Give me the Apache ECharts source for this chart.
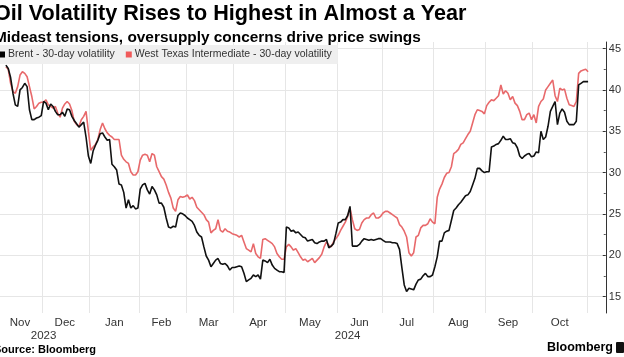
<!DOCTYPE html>
<html><head><meta charset="utf-8">
<script src="https://cdn.jsdelivr.net/npm/echarts@6/dist/echarts.min.js"></script>
<style>html,body{margin:0;padding:0;background:#fff;overflow:hidden}#c{width:624px;height:357px}</style>
</head><body><div id="c"></div>
<script>
const titleText = 'Oil Volatility Rises to Highest in Almost a Year';
const subtitleText = 'Mideast tensions, oversupply concerns drive price swings';
const sourceText = 'Source: Bloomberg';
const brandText = 'Bloomberg';
const seriesNames = ['Brent - 30-day volatility', 'West Texas Intermediate - 30-day volatility'];
const monthNames = ['Jan','Feb','Mar','Apr','May','Jun','Jul','Aug','Sep','Oct','Nov','Dec'];
// trading-day axis
const axisStart = '2023-11-06';
const axisEnd = '2024-11-12';
const holidays = ['2023-11-23','2023-12-25','2024-01-01','2024-01-15','2024-02-19','2024-03-29','2024-05-27','2024-06-19','2024-07-04','2024-09-02'];
// one value per trading day from dataStart
const dataStart = '2023-11-08';
const brent = [
 43.0,42.6,41.5,39.6,38.2,38.0,40.0,40.3,40.8,
 40.4,37.6,36.4,36.4,36.6,36.7,36.9,38.6,38.4,37.6,
 38.3,38.0,37.4,37.0,37.0,37.3,36.8,37.7,37.6,36.8,
 36.3,35.9,35.5,35.8,36.1,34.3,32.0,31.1,32.6,
 33.3,33.9,34.7,34.8,34.3,33.9,34.0,31.0,30.7,30.3,
 28.6,28.5,27.6,25.7,26.7,25.7,26.0,25.6,25.7,
 28.0,28.5,28.7,27.9,27.4,28.3,27.9,27.3,26.3,26.3,
 25.8,24.5,23.4,23.3,23.5,23.4,24.8,25.1,25.0,24.8,
 24.5,24.3,24.1,23.6,22.8,22.4,22.2,21.0,19.9,
 19.4,18.6,19.0,19.4,19.6,19.0,18.9,19.0,18.7,18.2,
 18.5,18.5,18.6,18.7,18.6,17.8,16.8,17.0,17.2,
 17.6,17.4,17.6,17.1,19.4,19.3,19.1,19.5,18.8,18.4,
 18.2,18.0,18.0,17.9,23.4,23.3,22.9,23.0,22.7,22.8,
 22.5,22.2,22.1,21.7,21.8,21.9,21.5,21.4,21.6,
 21.7,21.7,21.9,20.9,21.1,21.4,22.6,23.9,24.0,24.3,
 24.3,24.8,25.9,21.1,21.1,21.1,21.3,21.7,22.0,21.9,
 21.8,21.9,21.8,21.9,22.0,22.0,21.8,21.6,21.6,
 21.6,21.5,21.5,21.4,20.7,18.5,16.4,15.6,16.0,15.9,
 15.8,16.5,17.0,17.1,17.5,17.8,17.4,17.4,17.6,18.6,
 19.8,21.7,21.7,22.7,22.9,23.0,24.2,25.4,25.7,
 26.1,26.4,26.8,27.2,27.3,27.7,28.5,29.3,30.5,30.5,
 30.2,30.0,30.1,30.1,33.1,33.2,33.4,33.5,33.9,
 34.4,34.0,34.0,34.1,33.6,33.5,33.0,32.0,31.7,32.0,
 32.2,32.3,31.9,32.0,32.5,32.4,35.0,34.0,34.3,35.6,
 37.4,38.0,38.6,35.8,37.2,37.7,37.3,36.2,35.8,
 35.8,35.8,36.2,40.6,40.8,41.0,41.0,41.0
];
const wti = [
 42.8,42.5,40.8,39.8,39.6,40.4,41.8,42.2,42.0,
 41.6,40.4,39.2,37.7,38.0,38.4,38.5,38.5,38.8,38.2,
 38.0,37.8,38.0,37.2,36.7,37.8,38.3,38.6,38.3,37.5,
 36.2,35.8,35.6,36.4,36.8,37.4,35.0,32.7,33.1,
 33.4,34.0,35.2,36.0,35.3,34.8,34.5,34.3,34.0,34.0,
 34.0,32.1,31.6,31.3,31.1,30.1,29.7,29.7,30.1,
 31.5,32.1,32.2,32.1,31.3,32.3,32.1,30.7,30.1,29.5,
 29.2,28.5,27.6,26.9,25.7,25.3,26.7,27.1,27.0,27.1,
 27.3,26.8,27.0,26.6,25.8,25.5,25.2,24.9,24.3,
 24.0,22.7,23.0,23.2,24.3,23.0,22.8,23.2,22.9,22.8,
 22.6,22.5,22.4,22.2,22.4,21.6,20.8,20.6,20.4,
 21.4,20.2,19.8,19.6,21.9,22.0,21.8,21.6,21.4,21.0,
 20.2,19.8,19.5,19.5,21.0,21.3,21.0,20.6,20.8,20.3,
 19.8,19.4,19.5,19.2,19.4,19.6,19.1,19.4,19.7,
 20.1,21.0,21.6,21.2,21.0,21.6,22.0,22.4,23.0,23.5,
 24.0,24.7,25.7,24.3,23.2,23.0,23.1,23.9,24.3,24.5,
 24.5,24.9,25.1,24.5,24.5,24.7,25.1,25.3,25.3,
 25.1,24.9,24.7,24.5,23.7,23.4,22.9,22.2,20.3,19.9,
 20.3,22.2,22.4,23.3,23.6,23.6,23.8,24.4,24.0,23.8,
 27.0,28.0,28.6,29.4,29.9,30.0,30.7,32.3,32.5,
 32.8,33.4,33.6,34.1,34.6,35.0,36.0,37.0,37.6,37.5,
 37.4,37.1,38.1,38.5,38.8,38.7,39.0,39.3,40.6,
 39.5,39.9,39.6,38.8,39.2,38.4,38.1,37.4,36.4,36.4,
 37.0,37.2,36.4,37.0,36.0,38.0,38.6,38.9,40.0,40.4,
 40.8,41.2,39.3,38.6,40.2,40.0,40.1,39.0,38.2,
 38.1,38.0,38.6,42.0,42.3,42.4,42.5,42.2
];
const yTicks = [15, 20, 25, 30, 35, 40, 45];
const yMinorTicks = [17.5, 22.5, 27.5, 32.5, 37.5, 42.5];

// ---- build trading-day categories ----
const days = [];
for (let t = Date.parse(axisStart + 'T00:00:00Z'); t <= Date.parse(axisEnd + 'T00:00:00Z'); t += 86400000) {
  const d = new Date(t), wd = d.getUTCDay(), s = d.toISOString().slice(0, 10);
  if (wd === 0 || wd === 6 || holidays.includes(s)) continue;
  days.push(s);
}
function spansBy(len) {
  const out = [];
  days.forEach((s, i) => {
    const k = s.slice(0, len);
    if (!out.length || out[out.length - 1].key !== k) out.push({ key: k, a: i, b: i + 1 });
    else out[out.length - 1].b = i + 1;
  });
  return out;
}
const monthSpans = spansBy(7), yearSpans = spansBy(4);
const monthStarts = new Set(monthSpans.map(s => s.a).filter(a => a > 0));
const monthLabelIdx = new Set(monthSpans.filter(s => s.b - s.a >= 10).map(s => Math.floor((s.a + s.b - 1) / 2)));
const yearLabelIdx = new Set(yearSpans.map(s => Math.floor((s.a + s.b - 1) / 2)));
const off = days.indexOf(dataStart);
const toPairs = arr => arr.map((v, k) => [off + k, v]);

const FONT = '"Liberation Sans", Arial, Helvetica, sans-serif';
const chart = echarts.init(document.getElementById('c'), null, { renderer: 'canvas' });
chart.setOption({
  animation: false,
  backgroundColor: '#ffffff',
  textStyle: { fontFamily: FONT },
  title: {
    text: titleText, subtext: subtitleText, left: -6, top: 3, itemGap: 5, padding: 0,
    textStyle: { fontSize: 21.6, fontWeight: 'bold', color: '#000', fontFamily: FONT },
    subtextStyle: { fontSize: 15.4, fontWeight: 'bold', color: '#000', fontFamily: FONT }
  },
  legend: {
    data: seriesNames, left: -6, top: 45, padding: [4, 6, 4, 5], itemGap: 11,
    itemWidth: 6, itemHeight: 6, icon: 'rect', backgroundColor: '#efefef',
    textStyle: { fontSize: 10.5, color: '#333', fontFamily: FONT, padding: [0, 0, 0, -2] }
  },
  grid: { left: -6.3, right: 12.3, top: 42, bottom: 44, containLabel: false },
  xAxis: [{
    type: 'category', data: days, boundaryGap: true,
    axisLine: { show: false }, axisTick: { show: false },
    splitLine: { show: true, interval: (i) => monthStarts.has(i), lineStyle: { color: '#e6e6e6', width: 1 } },
    axisLabel: { interval: (i) => monthLabelIdx.has(i), formatter: (v) => monthNames[+v.slice(5, 7) - 1],
      fontSize: 11.5, color: '#333', margin: 4, fontFamily: FONT }
  }, {
    type: 'category', data: days, boundaryGap: true, position: 'bottom', offset: 13,
    axisLine: { show: false }, axisTick: { show: false }, splitLine: { show: false },
    axisLabel: { interval: (i) => yearLabelIdx.has(i), formatter: (v) => v.slice(0, 4),
      fontSize: 11.5, color: '#333', margin: 4, fontFamily: FONT }
  }],
  yAxis: [{
    type: 'value', position: 'right', min: 13.0, max: 45.8,
    axisLine: { show: true, lineStyle: { color: '#333', width: 1 } },
    axisTick: { show: true, inside: true, length: 3, customValues: yTicks, lineStyle: { color: '#333' } },
    axisLabel: { customValues: yTicks, fontSize: 11, color: '#333', margin: 3, fontFamily: FONT },
    splitLine: { show: true, lineStyle: { color: '#e6e6e6', width: 1 } }
  }, {
    type: 'value', position: 'right', min: 13.0, max: 45.8,
    axisLine: { show: false },
    axisTick: { show: true, inside: true, length: 2, customValues: yMinorTicks, lineStyle: { color: '#555' } },
    axisLabel: { show: false }, splitLine: { show: false }
  }],
  series: [{
    name: seriesNames[1], type: 'line', data: toPairs(wti), showSymbol: false, symbol: 'none',
    lineStyle: { color: '#e8696b', width: 1.6 }, itemStyle: { color: '#f05a5a' }, z: 2
  }, {
    name: seriesNames[0], type: 'line', data: toPairs(brent), showSymbol: false, symbol: 'none',
    lineStyle: { color: '#111', width: 1.6 }, itemStyle: { color: '#000' }, z: 3
  }],
  graphic: [
    { type: 'text', left: -6, top: 344, style: { text: sourceText, font: 'bold 11px ' + FONT, fill: '#000' } },
    { type: 'text', right: 11, top: 341, style: { text: brandText, font: 'bold 12.5px ' + FONT, fill: '#000' } },
    { type: 'rect', left: 616, top: 342, shape: { width: 8, height: 11, r: 1 }, style: { fill: '#111' } }
  ]
});
</script></body></html>
